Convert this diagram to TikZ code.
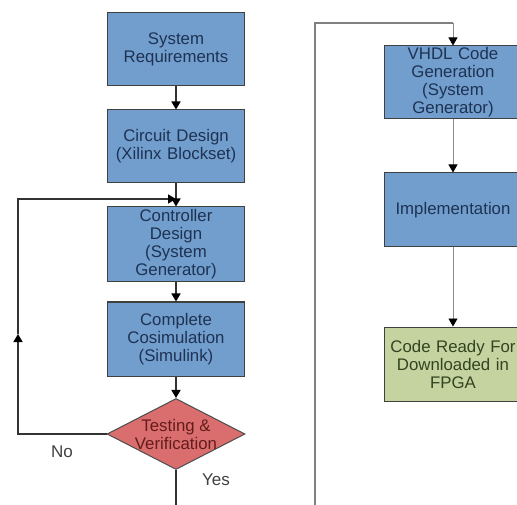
\documentclass[tikz,border=0pt]{standalone}
\usepackage{fontspec}
\setmainfont{Liberation Sans}
\usepackage{tikz}
\usetikzlibrary{shapes.geometric,arrows.meta}

\definecolor{blkfill}{RGB}{114,158,206}
\definecolor{blktext}{RGB}{30,50,82}
\definecolor{decfill}{RGB}{218,110,110}
\definecolor{dectext}{RGB}{100,28,28}
\definecolor{finfill}{RGB}{197,211,160}
\definecolor{fintext}{RGB}{50,68,32}

\tikzset{
  blk/.style={draw=black!75, line width=1pt, fill=blkfill, text=blktext,
    minimum width=137pt, minimum height=73pt, text width=137pt,
    align=center, inner sep=0pt, font=\fontsize{16.8}{18}\selectfont},
  fin/.style={blk, fill=finfill, text=fintext},
  dec/.style={diamond, draw=black!70, line width=1pt, fill=decfill,
    minimum width=138pt, minimum height=71pt, inner sep=0pt},
  dectxt/.style={text=dectext, align=center, inner sep=0pt,
    font=\fontsize{16.8}{18}\selectfont},
  lbl/.style={text=black!75, inner sep=0pt, font=\fontsize{17}{18}\selectfont},
  arr/.style={line width=1.5pt, black!80, -{Triangle[width=9pt,length=8pt,color=black]}},
  garr/.style={line width=0.8pt, black!45, -{Triangle[width=9pt,length=8pt,color=black]}}
}

\begin{document}
\begin{tikzpicture}[x=1pt,y=-1pt]
\clip (0,0) rectangle (517,505);

% left column
\node[blk] (req) at (176,49) {System\\Requirements};
\node[blk] (circ) at (176,146.5) {Circuit Design\\(Xilinx Blockset)};
\node[blk, minimum height=75pt] (ctrl) at (176,244.5) {Controller\\Design\\(System\\Generator)};
\node[blk, minimum height=74pt] (cosim) at (176,339) {Complete\\Cosimulation\\(Simulink)};
\node[dec] (test) at (176,434) {};
\node[dectxt] (testtxt) at (test) {Testing \&\\Verification};
\node[lbl] (no) at (62,452) {No};
\node[lbl] (yes) at (216,480) {Yes};

% right column
\node[blk] (vhdl) at (453,82.5) {VHDL Code\\Generation\\(System\\Generator)};
\node[blk, minimum height=74pt] (impl) at (453,210) {Implementation};
\node[fin, minimum height=74pt] (ready) at (453,364) {Code Ready For\\Downloaded in\\FPGA};

\coordinate (loopup) at (18,334);
\coordinate (loopin) at (176,199);
\coordinate (bl) at (176,505);
\coordinate (br) at (315,505);
\coordinate (topr) at (453,23);

\draw[arr] (req) -- (circ);
\draw[arr] (circ) -- (ctrl);
\draw[arr] (ctrl) -- (cosim);
\draw[arr] (cosim) -- (test);
\draw[arr] (test.west) -| (loopup);
\draw[arr] (loopup) |- (loopin);
\draw[line width=1.5pt, black!80] (test.south) -- (bl);

\draw[line width=1.6pt, black!50] (br) |- (topr);
\draw[garr] (topr) -- (vhdl);
\draw[garr] (vhdl) -- (impl);
\draw[garr] (impl) -- (ready);
\end{tikzpicture}
\end{document}
